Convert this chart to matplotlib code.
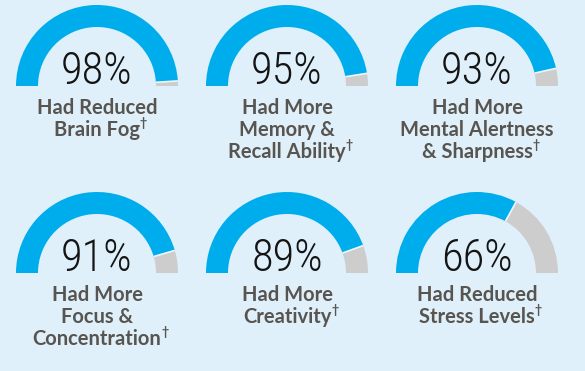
import matplotlib
matplotlib.use("Agg")
import matplotlib.pyplot as plt
from matplotlib.patches import Wedge
import numpy as np

# ---- data ----
values = [98, 95, 93, 91, 89, 66]
label_lines = [
    ["Had Reduced", "Brain Fog"],
    ["Had More", "Memory &", "Recall Ability"],
    ["Had More", "Mental Alertness", "& Sharpness"],
    ["Had More", "Focus &", "Concentration"],
    ["Had More", "Creativity"],
    ["Had Reduced", "Stress Levels"],
]
dagger = "\u2020"

# ---- style ----
BG = "#dff0fa"
BLUE = "#00adec"
GREY = "#cdcdcd"
LABEL = "#58544f"
PCT = "#141414"

W, H = 585, 371
fig = plt.figure(figsize=(W / 100, H / 100), dpi=100)
fig.patch.set_facecolor(BG)
ax = fig.add_axes([0, 0, 1, 1])
ax.set_facecolor(BG)
ax.set_xlim(0, W)
ax.set_ylim(H, 0)
ax.set_aspect("equal")
ax.axis("off")

col_x = [97, 287, 477]
row_y = [86, 273]
R_OUT, RING = 81, 22
line_gap = 22

pct_font = dict(family=["Roboto Condensed", "Liberation Sans Narrow", "DejaVu Sans"],
                weight="light", fontsize=32, color=PCT)
lab_font = dict(family=["Lato", "DejaVu Sans"], weight="bold", fontsize=14.5, color=LABEL)

for i, (v, lines) in enumerate(zip(values, label_lines)):
    cx = col_x[i % 3]
    cy = row_y[i // 3]
    split = 180 + 180 * v / 100.0
    ax.add_patch(Wedge((cx, cy), R_OUT, 180, split, width=RING, facecolor=BLUE, edgecolor="none"))
    ax.add_patch(Wedge((cx, cy), R_OUT, split, 360, width=RING, facecolor=GREY, edgecolor="none"))
    a = np.deg2rad(split)
    ax.plot([cx + (R_OUT - RING) * np.cos(a), cx + R_OUT * np.cos(a)],
            [cy + (R_OUT - RING) * np.sin(a), cy + R_OUT * np.sin(a)],
            color="#eef7fc", lw=1.2, solid_capstyle="butt")
    ax.text(cx, cy - 2, f"{v}%", ha="center", va="baseline", **pct_font)
    last = None
    for j, ln in enumerate(lines):
        last = ax.text(cx, cy + 28 + j * line_gap, ln, ha="center", va="baseline", **lab_font)
    ax.annotate(dagger, xy=(1.0, 1.0), xycoords=last, xytext=(0, 2), textcoords="offset points",
                ha="left", va="top", family=["Lato", "DejaVu Sans"], weight="bold",
                fontsize=9, color=LABEL)

fig.savefig("out.png", dpi=100, facecolor=BG)
